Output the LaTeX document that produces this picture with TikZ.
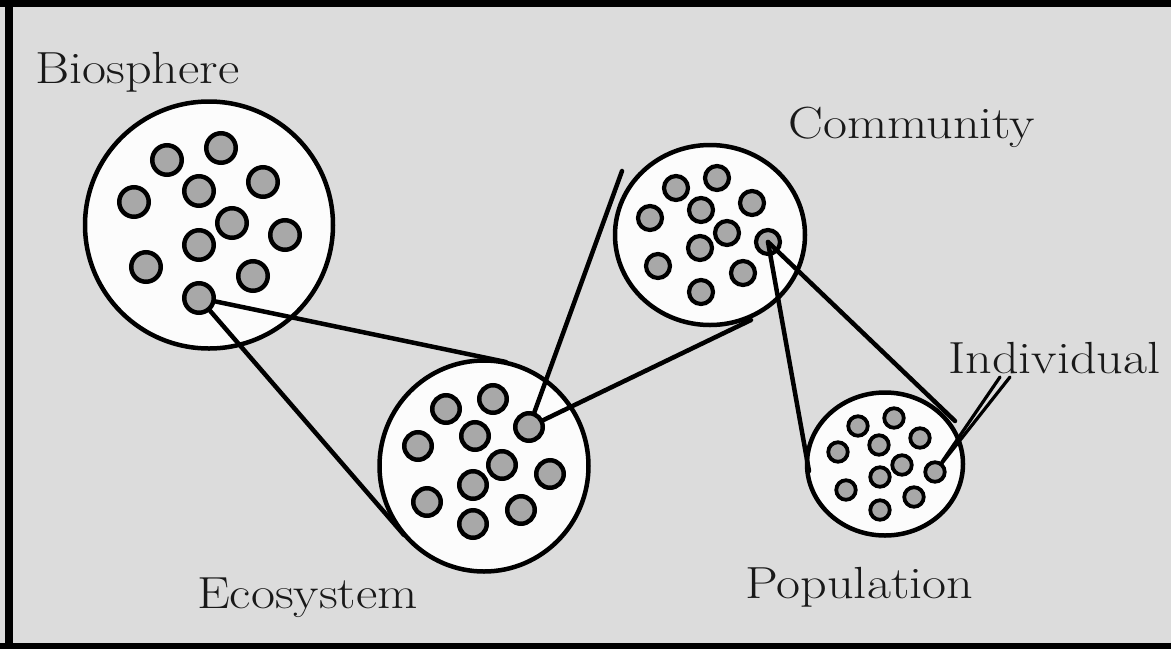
\documentclass[tikz,border=0pt]{standalone}
\usepackage{fontspec}
\usetikzlibrary{shapes.geometric}
\definecolor{bg}{RGB}{220,220,220}
\definecolor{dotgray}{RGB}{168,168,168}
\definecolor{paper}{RGB}{252,252,252}
\newcommand{\mylbl}[1]{\scalebox{1.16}[1]{#1}}
\begin{document}
\begin{tikzpicture}[x=1pt,y=-1pt,
  big/.style={ellipse, draw=black, fill=paper, line width=4.5pt, inner sep=0pt},
  dotB/.style={circle, draw=black, fill=dotgray, line width=4.5pt, inner sep=0pt, minimum size=29.5pt},
  dotE/.style={circle, draw=black, fill=dotgray, line width=4.5pt, inner sep=0pt, minimum size=27.5pt},
  dotC/.style={circle, draw=black, fill=dotgray, line width=4.2pt, inner sep=0pt, minimum size=24pt},
  dotP/.style={circle, draw=black, fill=dotgray, line width=3.8pt, inner sep=0pt, minimum size=19.5pt},
  link/.style={line width=4.5pt, line cap=round},
  thinlink/.style={line width=3.2pt, line cap=round},
  lbl/.style={anchor=base west, inner sep=0pt, text=black!90, font=\fontsize{45}{54}\selectfont}]
\useasboundingbox (0,0) rectangle (1171,649);
\fill[bg] (0,0) rectangle (1171,649);
\fill[black] (0,0) rectangle (1171,7);
\fill[black] (5,0) rectangle (13,649);
\fill[black] (0,643) rectangle (1171,649);

% big circles
\node[big, minimum width=248pt, minimum height=247pt] (bio) at (209,225) {};
\node[big, minimum width=209pt, minimum height=211pt] (eco) at (484,466) {};
\node[big, minimum width=190pt, minimum height=180pt] (com) at (710,235) {};
\node[big, minimum width=156pt, minimum height=143pt] (pop) at (885,464) {};

% biosphere dots
\node[dotB] (b1) at (167,160) {};
\node[dotB] (b2) at (221,148) {};
\node[dotB] (b3) at (263,182) {};
\node[dotB] (b4) at (199,191) {};
\node[dotB] (b5) at (134,202) {};
\node[dotB] (b6) at (232,223) {};
\node[dotB] (b7) at (285,235) {};
\node[dotB] (b8) at (199,245) {};
\node[dotB] (b9) at (146,267) {};
\node[dotB] (b10) at (253,276) {};
\node[dotB] (b11) at (199,298) {};

% ecosystem dots
\node[dotE] (e1) at (446,409) {};
\node[dotE] (e2) at (493,399) {};
\node[dotE] (e3) at (529,427) {};
\node[dotE] (e4) at (475,436) {};
\node[dotE] (e5) at (418,446) {};
\node[dotE] (e6) at (502,465) {};
\node[dotE] (e7) at (550,474) {};
\node[dotE] (e8) at (473,485) {};
\node[dotE] (e9) at (427,502) {};
\node[dotE] (e10) at (521,510) {};
\node[dotE] (e11) at (473,524) {};

% community dots
\node[dotC] (c1) at (676,188) {};
\node[dotC] (c2) at (717,178) {};
\node[dotC] (c3) at (752,203) {};
\node[dotC] (c4) at (701,210) {};
\node[dotC] (c5) at (650,218) {};
\node[dotC] (c6) at (727,233) {};
\node[dotC] (c7) at (700,248) {};
\node[dotC] (c8) at (768,242) {};
\node[dotC] (c9) at (658,266) {};
\node[dotC] (c10) at (743,273) {};
\node[dotC] (c11) at (701,292) {};

% population dots
\node[dotP] (p1) at (858,426) {};
\node[dotP] (p2) at (894,418) {};
\node[dotP] (p3) at (920,438) {};
\node[dotP] (p4) at (879,445) {};
\node[dotP] (p5) at (838,452) {};
\node[dotP] (p6) at (902,465) {};
\node[dotP] (p7) at (880,477) {};
\node[dotP] (p8) at (935,472) {};
\node[dotP] (p9) at (846,490) {};
\node[dotP] (p10) at (914,497) {};
\node[dotP] (p11) at (880,510) {};

% connector end points
\coordinate (t1) at (506,362);
\coordinate (t2) at (404,535);
\coordinate (t3) at (622,171);
\coordinate (t4) at (751,320);
\coordinate (t5) at (955,421);
\coordinate (t6) at (809,471);
\coordinate (i1) at (1000,377);
\coordinate (i2) at (1010,377);

\draw[link] (b11) -- (t1);
\draw[link] (b11) -- (t2);
\draw[link] (e3) -- (t3);
\draw[link] (e3) -- (t4);
\draw[link] (c8.center) -- (t5);
\draw[link] (c8.center) -- (t6);
\draw[thinlink] (i1) -- (p8);
\draw[thinlink] (i2) -- (p8);

% labels
\node[lbl] (lbio) at (35,83) {\mylbl{Biosphere}};
\node[lbl] (lcom) at (788,138) {\mylbl{Community}};
\node[lbl] (lind) at (948,373) {\mylbl{Individual}};
\node[lbl] (leco) at (197,608) {\mylbl{Ecosystem}};
\node[lbl] (lpop) at (745,598) {\mylbl{Population}};
\end{tikzpicture}
\end{document}
